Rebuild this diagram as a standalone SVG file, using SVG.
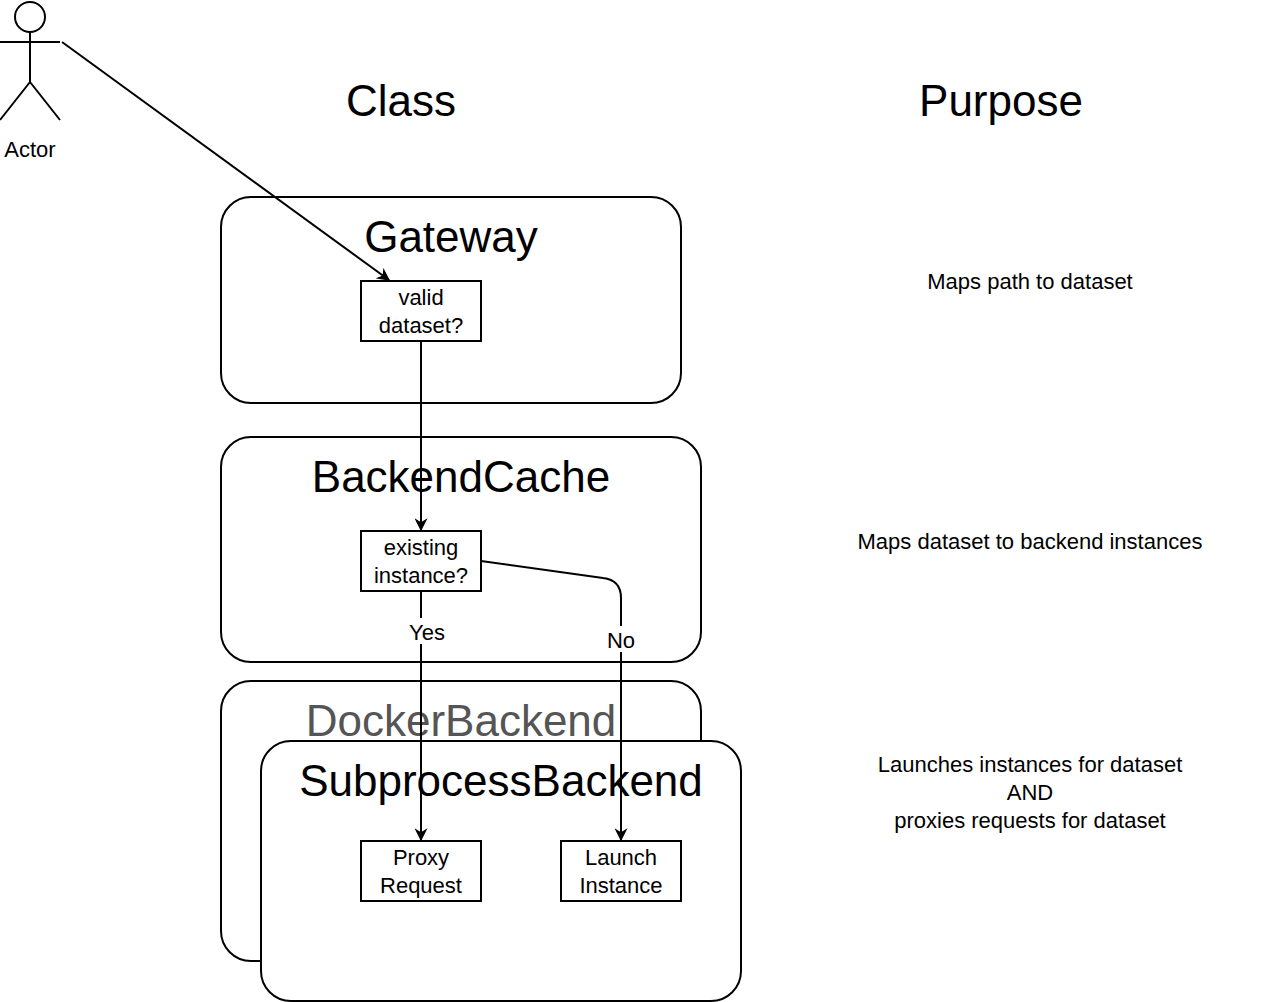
<svg xmlns="http://www.w3.org/2000/svg" width="1262" height="1002" viewBox="0 0 1262 1002">
<defs>
<marker id="arr" viewBox="0 0 10 10" refX="9" refY="5" markerWidth="13" markerHeight="13" orient="auto-start-reverse" markerUnits="userSpaceOnUse"><path d="M0,0 L10,5 L0,10 L3,5 Z" fill="#000"/></marker>
<style>
text{font-family:"Liberation Sans",Arial,sans-serif;fill:#000;text-anchor:middle}
.c{fill:#fff;stroke:#000;stroke-width:2}
.b{fill:#fff;stroke:#000;stroke-width:2}
.t{font-size:44px}
.s{font-size:22px}
.l{fill:none;stroke:#000;stroke-width:2}
</style>
</defs>
<rect width="1262" height="1002" fill="#fff"/>
<g id="actor" class="l">
<circle cx="30" cy="17" r="15" fill="#fff"/>
<path d="M30,32 V82 M0,42 H60 M0,120 L30,82 L60,120"/>
</g>
<text x="30" y="157" class="s">Actor</text>
<text x="401" y="116" class="t">Class</text>
<text x="1001" y="116" class="t">Purpose</text>
<g id="gateway"><rect x="221" y="197" width="460" height="206" rx="30" class="c"/><text x="451" y="252" class="t">Gateway</text></g>
<g id="backendcache"><rect x="221" y="437" width="480" height="225" rx="30" class="c"/><text x="461" y="492" class="t">BackendCache</text></g>
<g id="docker"><rect x="221" y="681" width="480" height="280" rx="30" class="c"/><text x="461" y="736" class="t" style="fill:#555">DockerBackend</text></g>
<g id="subprocess"><rect x="261" y="741" width="480" height="260" rx="30" class="c"/><text x="501" y="796" class="t">SubprocessBackend</text></g>
<g id="valid"><rect x="361" y="281" width="120" height="60" class="b"/><text x="421" y="305" class="s">valid</text><text x="421" y="333" class="s">dataset?</text></g>
<g id="existing"><rect x="361" y="531" width="120" height="60" class="b"/><text x="421" y="555" class="s">existing</text><text x="421" y="583" class="s">instance?</text></g>
<g id="proxy"><rect x="361" y="841" width="120" height="60" class="b"/><text x="421" y="865" class="s">Proxy</text><text x="421" y="893" class="s">Request</text></g>
<g id="launch"><rect x="561" y="841" width="120" height="60" class="b"/><text x="621" y="865" class="s">Launch</text><text x="621" y="893" class="s">Instance</text></g>
<g id="connectors" class="l">
<path d="M62,42 L389,280" marker-end="url(#arr)"/>
<path d="M421,341 V530" marker-end="url(#arr)"/>
<path d="M421,591 V840" marker-end="url(#arr)"/>
<path d="M481,561 L603,578 Q621,580 621,598 V840" marker-end="url(#arr)"/>
</g>
<rect x="403" y="618" width="48" height="26" fill="#fff"/>
<text x="427" y="640" class="s">Yes</text>
<rect x="603" y="626" width="36" height="26" fill="#fff"/>
<text x="621" y="648" class="s">No</text>
<text x="1030" y="289" class="s">Maps path to dataset</text>
<text x="1030" y="549" class="s">Maps dataset to backend instances</text>
<text x="1030" y="772" class="s">Launches instances for dataset</text>
<text x="1030" y="800" class="s">AND</text>
<text x="1030" y="828" class="s">proxies requests for dataset</text>
</svg>
